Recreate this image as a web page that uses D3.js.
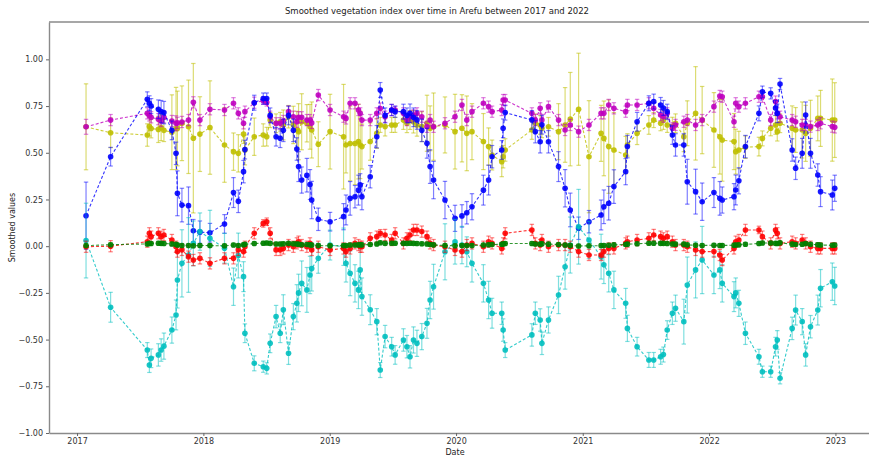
<!DOCTYPE html>
<html>
<head>
<meta charset="utf-8">
<script src="https://cdn.jsdelivr.net/npm/d3@7"></script>
<style>
  body { margin: 0; background: #fff; }
  text { font-family: "DejaVu Sans", sans-serif; }
</style>
</head>
<body>
<svg id="chart" width="869" height="457"></svg>
<script>
// observation dates, shared by all indices
const dates = [
  '2017-01-27','2017-04-08','2017-07-23','2017-07-29','2017-08-03','2017-08-24','2017-09-01','2017-09-09','2017-10-02','2017-10-14',
  '2017-10-18','2017-10-31','2017-11-19','2017-12-03','2017-12-22','2018-01-20','2018-03-03','2018-03-29','2018-04-12','2018-04-27',
  '2018-05-01','2018-05-28','2018-06-23','2018-07-03','2018-07-13','2018-07-30','2018-08-11','2018-08-20','2018-09-04','2018-09-18',
  '2018-09-28','2018-10-03','2018-10-12','2018-10-27','2018-11-05','2018-11-10','2018-11-29','2019-01-02','2019-02-10','2019-02-17',
  '2019-03-01','2019-03-15','2019-03-25','2019-03-30','2019-04-04','2019-04-28','2019-05-17','2019-05-27','2019-06-10','2019-06-29',
  '2019-07-09','2019-08-02','2019-08-12','2019-08-21','2019-08-31','2019-09-10','2019-09-24','2019-10-09','2019-10-18','2019-10-28',
  '2019-11-30','2019-12-29','2020-01-18','2020-02-01','2020-02-16','2020-03-20','2020-04-04','2020-04-14','2020-05-12','2020-05-16',
  '2020-05-22','2020-08-07','2020-08-17','2020-08-31','2020-09-05','2020-09-24','2020-10-23','2020-11-11','2020-11-26','2020-12-20',
  '2021-01-19','2021-02-23','2021-03-03','2021-03-17','2021-04-01','2021-05-05','2021-05-10','2021-06-07','2021-07-11','2021-07-25',
  '2021-08-14','2021-08-22','2021-09-02','2021-09-17','2021-09-26','2021-10-20','2021-10-30','2021-11-23','2021-12-12','2022-01-15',
  '2022-02-01','2022-02-08','2022-03-14','2022-03-19','2022-03-28','2022-04-16','2022-05-25','2022-06-04','2022-06-28','2022-07-12',
  '2022-07-17','2022-07-25','2022-08-29','2022-09-08','2022-09-27','2022-10-07','2022-10-21','2022-11-11','2022-11-19','2022-12-23','2022-12-30'
];

const blueVals = [
  0.163,0.479,0.786,0.765,0.75,0.733,0.72,0.715,0.62,0.497,
  0.283,0.22,0.217,0.083,0.075,0.072,0.119,0.287,0.24,0.399,
  0.517,0.768,0.79,0.79,0.70,0.586,0.578,0.62,0.70,0.62,
  0.52,0.426,0.354,0.38,0.33,0.247,0.144,0.131,0.158,0.194,
  0.256,0.265,0.30,0.328,0.265,0.372,0.586,0.836,0.70,0.729,
  0.72,0.72,0.70,0.711,0.69,0.676,0.62,0.551,0.426,0.354,
  0.247,0.149,0.162,0.179,0.211,0.30,0.354,0.479,0.515,0.631,
  0.715,0.676,0.613,0.559,0.65,0.559,0.426,0.31,0.194,0.096,
  0.131,0.167,0.211,0.23,0.319,0.399,0.533,0.666,0.765,0.774,
  0.756,0.74,0.72,0.595,0.542,0.542,0.345,0.292,0.238,0.287,
  0.256,0.247,0.265,0.301,0.35,0.533,0.711,0.827,0.818,0.74,
  0.711,0.868,0.515,0.417,0.497,0.702,0.497,0.381,0.292,0.274,0.31
];
const blueErr = [
  0.18,0.05,0.04,0.04,0.04,0.05,0.06,0.06,0.05,0.06,
  0.12,0.09,0.10,0.06,0.06,0.05,0.05,0.08,0.06,0.06,
  0.05,0.04,0.03,0.03,0.04,0.05,0.05,0.06,0.05,0.06,
  0.06,0.08,0.07,0.09,0.08,0.10,0.06,0.05,0.07,0.08,
  0.09,0.06,0.08,0.06,0.07,0.06,0.06,0.04,0.04,0.03,
  0.03,0.04,0.04,0.05,0.05,0.05,0.06,0.08,0.09,0.10,
  0.10,0.07,0.06,0.06,0.07,0.08,0.08,0.06,0.05,0.05,
  0.04,0.05,0.06,0.06,0.05,0.06,0.08,0.10,0.09,0.06,
  0.06,0.08,0.09,0.09,0.09,0.07,0.06,0.05,0.04,0.04,
  0.04,0.04,0.04,0.05,0.06,0.06,0.12,0.12,0.10,0.08,
  0.09,0.07,0.07,0.08,0.07,0.06,0.04,0.03,0.03,0.04,
  0.05,0.03,0.06,0.06,0.08,0.07,0.08,0.06,0.08,0.08,0.07
];

const cyanVals = [
  0.03,-0.327,-0.556,-0.636,-0.60,-0.582,-0.556,-0.535,-0.449,-0.368,
  -0.181,-0.092,-0.047,0.015,0.078,0.042,-0.011,-0.217,-0.05,-0.163,
  -0.466,-0.627,-0.645,-0.654,-0.52,-0.377,-0.466,-0.34,-0.573,-0.377,
  -0.306,-0.25,-0.199,-0.234,-0.154,-0.12,-0.065,0.006,-0.003,-0.092,
  -0.145,-0.199,-0.234,-0.127,-0.27,-0.34,-0.404,-0.663,-0.484,-0.538,
  -0.582,-0.502,-0.538,-0.592,-0.502,-0.52,-0.484,-0.413,-0.288,-0.217,
  -0.03,0.024,0.006,-0.03,-0.092,-0.199,-0.288,-0.359,-0.359,-0.449,
  -0.556,-0.475,-0.359,-0.395,-0.52,-0.395,-0.261,-0.11,0.006,0.104,
  0.033,-0.056,-0.10,-0.145,-0.234,-0.306,-0.44,-0.538,-0.609,-0.609,
  -0.592,-0.58,-0.449,-0.359,-0.332,-0.404,-0.208,-0.127,-0.074,-0.154,
  -0.127,-0.199,-0.27,-0.25,-0.306,-0.466,-0.592,-0.672,-0.672,-0.538,
  -0.502,-0.707,-0.44,-0.342,-0.404,-0.582,-0.431,-0.342,-0.225,-0.19,-0.213
];
const cyanErr = [
  0.20,0.08,0.04,0.04,0.05,0.06,0.06,0.07,0.07,0.08,
  0.15,0.18,0.20,0.12,0.10,0.15,0.08,0.10,0.12,0.08,
  0.05,0.04,0.03,0.03,0.05,0.06,0.05,0.08,0.06,0.07,
  0.10,0.10,0.12,0.12,0.10,0.12,0.08,0.08,0.10,0.10,
  0.12,0.10,0.10,0.12,0.10,0.08,0.07,0.04,0.06,0.05,
  0.05,0.06,0.06,0.06,0.07,0.07,0.07,0.08,0.10,0.12,
  0.15,0.12,0.10,0.08,0.10,0.10,0.10,0.08,0.06,0.06,
  0.04,0.06,0.06,0.06,0.06,0.07,0.10,0.12,0.15,0.20,
  0.10,0.12,0.10,0.10,0.10,0.08,0.07,0.05,0.04,0.04,
  0.04,0.04,0.05,0.06,0.07,0.12,0.15,0.15,0.18,0.10,
  0.10,0.10,0.08,0.08,0.07,0.06,0.04,0.03,0.03,0.05,
  0.05,0.03,0.06,0.08,0.07,0.06,0.06,0.08,0.10,0.10,0.10
];

const magentaVals = [
  0.639,0.675,0.711,0.70,0.69,0.68,0.67,0.69,0.67,0.658,
  0.66,0.665,0.675,0.77,0.675,0.733,0.729,0.765,0.711,0.658,
  0.72,0.768,0.779,0.77,0.693,0.658,0.658,0.67,0.72,0.693,
  0.666,0.69,0.69,0.675,0.675,0.66,0.809,0.729,0.693,0.684,
  0.765,0.765,0.729,0.711,0.675,0.675,0.711,0.737,0.693,0.729,
  0.729,0.711,0.675,0.693,0.70,0.711,0.693,0.639,0.675,0.639,
  0.658,0.693,0.756,0.675,0.72,0.765,0.747,0.72,0.729,0.782,
  0.782,0.711,0.675,0.738,0.675,0.747,0.675,0.622,0.649,0.613,
  0.649,0.711,0.711,0.756,0.738,0.72,0.756,0.756,0.765,0.738,
  0.702,0.693,0.711,0.631,0.649,0.666,0.675,0.649,0.675,0.747,
  0.804,0.80,0.666,0.765,0.747,0.765,0.80,0.80,0.675,0.774,
  0.711,0.693,0.675,0.666,0.649,0.649,0.64,0.649,0.658,0.64,0.636
];
const magentaErr = [
  0.04,0.03,0.03,0.03,0.03,0.03,0.03,0.03,0.03,0.04,
  0.03,0.03,0.03,0.03,0.03,0.03,0.03,0.03,0.03,0.03,
  0.03,0.03,0.02,0.02,0.03,0.03,0.03,0.03,0.03,0.03,
  0.03,0.03,0.03,0.03,0.03,0.03,0.03,0.03,0.03,0.03,
  0.03,0.03,0.03,0.03,0.03,0.03,0.03,0.03,0.03,0.03,
  0.02,0.03,0.03,0.03,0.03,0.03,0.03,0.03,0.03,0.03,
  0.03,0.03,0.03,0.03,0.03,0.03,0.03,0.03,0.03,0.03,
  0.03,0.03,0.03,0.03,0.03,0.03,0.03,0.03,0.03,0.03,
  0.03,0.03,0.03,0.03,0.03,0.03,0.03,0.03,0.03,0.03,
  0.03,0.03,0.03,0.03,0.03,0.03,0.03,0.03,0.03,0.03,
  0.03,0.03,0.03,0.03,0.03,0.03,0.03,0.03,0.03,0.03,
  0.03,0.03,0.03,0.03,0.03,0.03,0.03,0.03,0.03,0.03,0.03
];

const yellowVals = [
  0.639,0.607,0.595,0.64,0.63,0.625,0.635,0.62,0.61,0.63,
  0.63,0.658,0.639,0.578,0.60,0.635,0.542,0.506,0.497,0.60,
  0.515,0.586,0.595,0.586,0.675,0.658,0.666,0.649,0.693,0.649,
  0.622,0.613,0.666,0.658,0.639,0.622,0.546,0.613,0.586,0.542,
  0.55,0.55,0.56,0.542,0.533,0.56,0.604,0.649,0.64,0.649,
  0.649,0.675,0.658,0.675,0.666,0.649,0.64,0.658,0.631,0.64,
  0.649,0.613,0.631,0.604,0.613,0.56,0.533,0.488,0.452,0.479,
  0.515,0.622,0.658,0.649,0.631,0.639,0.613,0.649,0.68,0.733,
  0.479,0.604,0.577,0.533,0.515,0.488,0.542,0.604,0.649,0.675,
  0.658,0.675,0.649,0.64,0.658,0.586,0.658,0.711,0.675,0.622,
  0.586,0.568,0.56,0.506,0.515,0.53,0.533,0.577,0.631,0.649,
  0.613,0.658,0.631,0.622,0.622,0.604,0.631,0.684,0.684,0.675,0.675
];
const yellowErr = [
  0.23,0.08,0.06,0.05,0.05,0.07,0.07,0.06,0.20,0.22,
  0.20,0.20,0.25,0.40,0.20,0.25,0.20,0.10,0.10,0.05,
  0.08,0.10,0.06,0.05,0.04,0.05,0.05,0.08,0.06,0.10,
  0.10,0.15,0.15,0.10,0.12,0.15,0.12,0.20,0.28,0.15,
  0.20,0.22,0.20,0.18,0.12,0.10,0.08,0.04,0.05,0.04,
  0.04,0.05,0.05,0.05,0.06,0.06,0.08,0.15,0.12,0.18,
  0.15,0.20,0.18,0.20,0.15,0.15,0.10,0.08,0.08,0.06,
  0.06,0.05,0.05,0.05,0.05,0.05,0.15,0.20,0.25,0.30,
  0.30,0.15,0.20,0.25,0.20,0.10,0.06,0.06,0.05,0.04,
  0.04,0.05,0.04,0.05,0.05,0.08,0.12,0.25,0.18,0.20,
  0.20,0.22,0.15,0.12,0.10,0.06,0.05,0.04,0.04,0.05,
  0.05,0.05,0.12,0.12,0.15,0.15,0.15,0.12,0.15,0.22,0.20
];

const redVals = [
  -0.003,0.0,0.024,0.069,0.051,0.069,0.051,0.06,0.033,-0.003,
  -0.029,-0.02,-0.056,-0.074,-0.065,-0.092,-0.065,-0.065,-0.02,-0.029,
  -0.003,0.069,0.122,0.131,0.069,-0.02,-0.02,-0.012,0.006,-0.003,
  0.015,0.024,0.006,-0.003,0.015,-0.02,-0.003,-0.02,-0.012,-0.029,
  -0.012,0.015,0.006,-0.003,-0.003,0.042,0.051,0.069,0.06,0.033,
  0.069,0.015,0.042,0.06,0.087,0.087,0.078,0.051,0.015,0.006,
  -0.003,-0.02,-0.029,0.006,0.015,-0.003,0.024,0.015,-0.012,0.015,
  0.069,0.087,0.015,0.006,0.033,-0.003,0.006,0.006,-0.003,-0.029,
  -0.047,-0.047,-0.029,-0.012,-0.012,0.015,0.024,0.033,0.042,0.06,
  0.051,0.042,0.051,0.024,0.006,0.006,-0.003,-0.02,-0.029,-0.029,
  -0.047,-0.074,-0.012,0.024,0.033,0.087,0.087,0.051,0.015,0.087,
  0.069,0.015,0.024,0.015,0.033,0.015,-0.003,-0.012,-0.012,-0.012,-0.012
];
const redErr = [
  0.03,0.03,0.03,0.03,0.03,0.03,0.03,0.03,0.03,0.03,
  0.03,0.03,0.03,0.03,0.03,0.03,0.03,0.03,0.03,0.03,
  0.03,0.03,0.02,0.02,0.03,0.03,0.03,0.03,0.03,0.03,
  0.03,0.03,0.03,0.03,0.03,0.03,0.03,0.03,0.03,0.03,
  0.03,0.03,0.03,0.03,0.03,0.03,0.03,0.02,0.03,0.03,
  0.03,0.03,0.03,0.03,0.03,0.03,0.03,0.03,0.03,0.03,
  0.03,0.03,0.03,0.03,0.03,0.03,0.03,0.03,0.03,0.03,
  0.03,0.03,0.03,0.03,0.03,0.03,0.03,0.03,0.03,0.03,
  0.03,0.03,0.03,0.03,0.03,0.03,0.03,0.03,0.03,0.03,
  0.03,0.03,0.03,0.03,0.03,0.03,0.03,0.03,0.03,0.03,
  0.03,0.03,0.03,0.03,0.03,0.03,0.02,0.03,0.03,0.03,
  0.03,0.03,0.03,0.03,0.03,0.03,0.03,0.03,0.03,0.03,0.03
];

const greenVals = [
  0.003,0.008,0.012,0.015,0.014,0.016,0.015,0.014,0.012,0.01,
  0.006,0.004,0.003,0.002,0.004,0.003,0.002,0.006,0.004,0.008,
  0.01,0.014,0.016,0.017,0.015,0.012,0.012,0.013,0.015,0.013,
  0.012,0.01,0.008,0.009,0.007,0.006,0.003,0.002,0.003,0.004,
  0.006,0.006,0.007,0.008,0.007,0.009,0.012,0.018,0.015,0.016,
  0.016,0.015,0.015,0.016,0.015,0.014,0.013,0.012,0.009,0.007,
  0.004,0.002,0.003,0.003,0.004,0.006,0.008,0.009,0.01,0.012,
  0.014,0.014,0.012,0.011,0.013,0.011,0.009,0.006,0.003,0.001,
  0.002,0.003,0.004,0.005,0.007,0.009,0.011,0.013,0.016,0.016,
  0.015,0.015,0.014,0.012,0.011,0.011,0.007,0.005,0.004,0.005,
  0.004,0.004,0.005,0.006,0.007,0.01,0.014,0.017,0.017,0.015,
  0.014,0.018,0.011,0.009,0.01,0.014,0.01,0.008,0.006,0.005,0.006
];
const greenErr = [
  0.01,0.01,0.01,0.01,0.01,0.01,0.01,0.01,0.01,0.01,
  0.01,0.01,0.01,0.01,0.01,0.01,0.01,0.01,0.01,0.01,
  0.01,0.01,0.01,0.01,0.01,0.01,0.01,0.01,0.01,0.01,
  0.01,0.01,0.01,0.01,0.01,0.01,0.01,0.01,0.01,0.01,
  0.01,0.01,0.01,0.01,0.01,0.01,0.01,0.01,0.01,0.01,
  0.01,0.01,0.01,0.01,0.01,0.01,0.01,0.01,0.01,0.01,
  0.01,0.01,0.01,0.01,0.01,0.01,0.01,0.01,0.01,0.01,
  0.01,0.01,0.01,0.01,0.01,0.01,0.01,0.01,0.01,0.01,
  0.01,0.01,0.01,0.01,0.01,0.01,0.01,0.01,0.01,0.01,
  0.01,0.01,0.01,0.01,0.01,0.01,0.01,0.01,0.01,0.01,
  0.01,0.01,0.01,0.01,0.01,0.01,0.01,0.01,0.01,0.01,
  0.01,0.01,0.01,0.01,0.01,0.01,0.01,0.01,0.01,0.01,0.01
];

const yTicks = [-1.0, -0.75, -0.5, -0.25, 0.0, 0.25, 0.5, 0.75, 1.0];

// draw order: first ones end up underneath
const series = [
  { name: 'yellow', color: '#bfbf00', vals: yellowVals, err: yellowErr, barOpacity: 0.55 },
  { name: 'magenta', color: '#bf00bf', vals: magentaVals, err: magentaErr, barOpacity: 0.5 },
  { name: 'blue', color: '#0000ff', vals: blueVals, err: blueErr, barOpacity: 0.5 },
  { name: 'cyan', color: '#00bfbf', vals: cyanVals, err: cyanErr, barOpacity: 0.5 },
  { name: 'red', color: '#ff0000', vals: redVals, err: redErr, barOpacity: 0.5 },
  { name: 'green', color: '#008000', vals: greenVals, err: greenErr, barOpacity: 0.5 }
];

const width = 869, height = 457;
const margin = { top: 22, right: 0, bottom: 24, left: 49 };

const svg = d3.select('#chart');
const parse = d3.timeParse('%Y-%m-%d');
const when = dates.map(parse);

const x = d3.scaleTime()
  .domain([new Date(2016, 9, 12), new Date(2023, 3, 8)])
  .range([margin.left, width - margin.right]);
const y = d3.scaleLinear()
  .domain([-1, 1.2])
  .range([height - margin.bottom, margin.top]);

// x axis
const gx = svg.append('g')
  .attr('transform', `translate(0,${height - margin.bottom})`)
  .call(d3.axisBottom(x).ticks(d3.timeYear.every(1)).tickFormat(d3.timeFormat('%Y')).tickSize(3).tickPadding(2).tickSizeOuter(0));
// y axis
const gy = svg.append('g')
  .attr('transform', `translate(${margin.left},0)`)
  .call(d3.axisLeft(y).tickValues(yTicks).tickFormat(d3.format('.2f')).tickSize(3).tickPadding(3).tickSizeOuter(0));

[gx, gy].forEach(g => {
  g.select('.domain').attr('stroke', '#8a8a8a').attr('stroke-width', 1.4);
  g.selectAll('.tick line').attr('stroke', '#666');
  g.selectAll('.tick text').attr('fill', '#333').style('font-size', '8px');
});

// top spine
svg.append('line')
  .attr('x1', margin.left).attr('x2', width)
  .attr('y1', margin.top).attr('y2', margin.top)
  .attr('stroke', '#8a8a8a').attr('stroke-width', 1.4);

const plot = svg.append('g');

const line = d3.line()
  .x(d => x(d.date))
  .y(d => y(d.v));

series.forEach(s => {
  const pts = when.map((date, i) => ({ date, v: s.vals[i], e: s.err[i] }));
  const g = plot.append('g').attr('class', 'series-' + s.name);

  // error bars with caps
  const bars = g.append('g')
    .attr('stroke', s.color)
    .attr('stroke-opacity', s.barOpacity)
    .attr('stroke-width', 1.2);
  bars.selectAll('line.bar')
    .data(pts).enter().append('line').attr('class', 'bar')
    .attr('x1', d => x(d.date)).attr('x2', d => x(d.date))
    .attr('y1', d => y(d.v - d.e)).attr('y2', d => y(d.v + d.e));
  bars.selectAll('line.capTop')
    .data(pts).enter().append('line').attr('class', 'capTop')
    .attr('x1', d => x(d.date) - 2.2).attr('x2', d => x(d.date) + 2.2)
    .attr('y1', d => y(d.v + d.e)).attr('y2', d => y(d.v + d.e));
  bars.selectAll('line.capBot')
    .data(pts).enter().append('line').attr('class', 'capBot')
    .attr('x1', d => x(d.date) - 2.2).attr('x2', d => x(d.date) + 2.2)
    .attr('y1', d => y(d.v - d.e)).attr('y2', d => y(d.v - d.e));

  g.append('path')
    .datum(pts)
    .attr('fill', 'none')
    .attr('stroke', s.color)
    .attr('stroke-width', 1.1)
    .attr('stroke-opacity', 0.8)
    .attr('stroke-dasharray', '3,2')
    .attr('d', line);

  g.selectAll('circle')
    .data(pts).enter().append('circle')
    .attr('cx', d => x(d.date))
    .attr('cy', d => y(d.v))
    .attr('r', 2.8)
    .attr('fill', s.color)
    .attr('fill-opacity', 0.9);
});

// labels
svg.append('text')
  .attr('x', (margin.left + width) / 2 - 22)
  .attr('y', 14)
  .attr('text-anchor', 'middle')
  .style('font-size', '8.5px')
  .attr('fill', '#222')
  .text('Smoothed vegetation index over time in Arefu between 2017 and 2022');

svg.append('text')
  .attr('x', (margin.left + width) / 2 - 4)
  .attr('y', 455)
  .attr('text-anchor', 'middle')
  .style('font-size', '8px')
  .attr('fill', '#222')
  .text('Date');

svg.append('text')
  .attr('transform', `translate(15,${(margin.top + height - margin.bottom) / 2}) rotate(-90)`)
  .attr('text-anchor', 'middle')
  .style('font-size', '8px')
  .attr('fill', '#222')
  .text('Smoothed values');
</script>
</body>
</html>
